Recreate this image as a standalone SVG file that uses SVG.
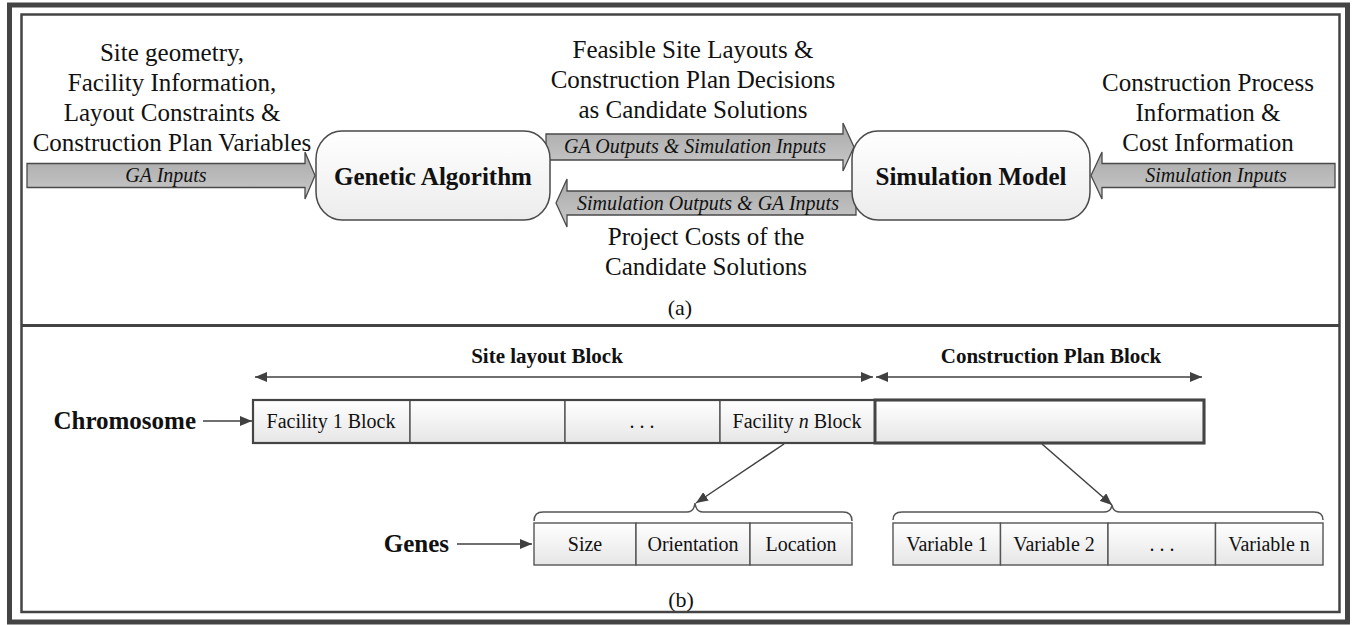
<svg xmlns="http://www.w3.org/2000/svg" width="1354" height="625" viewBox="0 0 1354 625">
<defs>
<linearGradient id="gArrow" x1="0" y1="0" x2="0" y2="1"><stop offset="0" stop-color="#a9a9a9"/><stop offset="1" stop-color="#c9c9c9"/></linearGradient>
<linearGradient id="gBox" x1="0" y1="0" x2="0" y2="1"><stop offset="0" stop-color="#ffffff"/><stop offset="1" stop-color="#ececec"/></linearGradient>
<linearGradient id="gCell" x1="0" y1="0" x2="0" y2="1"><stop offset="0" stop-color="#ffffff"/><stop offset="1" stop-color="#e6e6e6"/></linearGradient>
<marker id="ah" viewBox="0 0 12 10" refX="12" refY="5" markerWidth="12" markerHeight="10" markerUnits="userSpaceOnUse" orient="auto-start-reverse"><path d="M0,0 L12,5 L0,10 Z" fill="#404040"/></marker>
<style>
.frame{fill:none;stroke:#444;}
.big{fill:url(#gArrow);stroke:#4a4a4a;stroke-width:1.3;}
.box{fill:url(#gBox);stroke:#4a4a4a;stroke-width:1.5;}
.cell{fill:url(#gCell);stroke:#555;stroke-width:1.4;}
.line{fill:none;stroke:#404040;stroke-width:1.5;}
.brace{fill:none;stroke:#555;stroke-width:1.5;}
text{font-family:"Liberation Serif","Times New Roman",serif;fill:#111;}
.lab{font-size:25px;text-anchor:middle;}
.it{font-size:20px;font-style:italic;text-anchor:middle;}
.title{font-size:25px;font-weight:bold;text-anchor:middle;}
.hd{font-size:21px;font-weight:bold;text-anchor:middle;}
.ct{font-size:20px;text-anchor:middle;}
.cap{font-size:22px;text-anchor:middle;}
</style>
</defs>
<rect x="0" y="0" width="1354" height="625" fill="#ffffff"/>
<g id="frame">
<rect class="frame" x="9.5" y="5" width="1338" height="617" stroke-width="5"/>
<rect class="frame" x="21.5" y="14.5" width="1318" height="597.5" stroke-width="2.5"/>
<line class="frame" x1="21.5" y1="325.5" x2="1339.5" y2="325.5" stroke-width="3"/>
</g>
<g id="connectors">
<path class="big" d="M27,163.5 L305,163.5 L305,152 L315,175.5 L305,199 L305,187.5 L27,187.5 Z"/>
<path class="big" d="M546,134 L843,134 L843,123 L854,147 L843,171 L843,160 L546,160 Z"/>
<path class="big" d="M856,191 L567,191 L567,179 L556,203 L567,227 L567,215 L856,215 Z"/>
<path class="big" d="M1335,163.5 L1102,163.5 L1102,152 L1091,175.5 L1102,199 L1102,187.5 L1335,187.5 Z"/>
<line class="line" x1="255" y1="377" x2="873" y2="377" marker-start="url(#ah)" marker-end="url(#ah)"/>
<line class="line" x1="876" y1="377" x2="1202" y2="377" marker-start="url(#ah)" marker-end="url(#ah)"/>
<line class="line" x1="203" y1="421" x2="252" y2="421" marker-end="url(#ah)"/>
<line class="line" x1="457" y1="544" x2="532" y2="544" marker-end="url(#ah)"/>
<line class="line" x1="784" y1="444" x2="696" y2="503" marker-end="url(#ah)"/>
<line class="line" x1="1042" y1="444" x2="1112" y2="505" marker-end="url(#ah)"/>
<path class="brace" d="M534,521 Q534,512 543,512 L687,512 Q694,512 695,503 Q696,512 703,512 L843,512 Q852,512 852,521"/>
<path class="brace" d="M893,520 Q893,512 902,512 L1104,512 Q1111,512 1112,505 Q1113,512 1120,512 L1314,512 Q1323,512 1323,520"/>
</g>
<g id="labels-a">
<text class="lab" x="172" y="61">Site geometry,</text>
<text class="lab" x="172" y="91">Facility Information,</text>
<text class="lab" x="172" y="121">Layout Constraints &amp;</text>
<text class="lab" x="172" y="151">Construction Plan Variables</text>
<text class="it" x="166" y="182">GA Inputs</text>
<text class="lab" x="693" y="58">Feasible Site Layouts &amp;</text>
<text class="lab" x="693" y="88">Construction Plan Decisions</text>
<text class="lab" x="693" y="118">as Candidate Solutions</text>
<text class="it" x="695" y="153">GA Outputs &amp; Simulation Inputs</text>
<text class="it" x="708" y="210">Simulation Outputs &amp; GA Inputs</text>
<text class="lab" x="1208" y="91">Construction Process</text>
<text class="lab" x="1208" y="121">Information &amp;</text>
<text class="lab" x="1208" y="151">Cost Information</text>
<text class="it" x="1216" y="182">Simulation Inputs</text>
<text class="lab" x="706" y="245">Project Costs of the</text>
<text class="lab" x="706" y="275">Candidate Solutions</text>
<text class="cap" x="680" y="315">(a)</text>
</g>
<g id="ga">
<rect class="box" x="316" y="131" width="234" height="89" rx="26" ry="28"/>
<text class="title" x="433" y="185">Genetic Algorithm</text>
</g>
<g id="sim">
<rect class="box" x="852" y="131" width="238" height="89" rx="26" ry="28"/>
<text class="title" x="971" y="185">Simulation Model</text>
</g>
<g id="labels-b">
<text class="hd" x="547" y="363">Site layout Block</text>
<text class="hd" x="1051" y="363">Construction Plan Block</text>
<text class="title" x="196" y="429" text-anchor="end" style="text-anchor:end">Chromosome</text>
<text class="title" x="449" y="552" style="text-anchor:end">Genes</text>
<text class="cap" x="681" y="607">(b)</text>
</g>
<g id="chromosome">
<rect class="cell" x="253" y="400" width="157" height="43"/>
<rect class="cell" x="410" y="400" width="155" height="43"/>
<rect class="cell" x="565" y="400" width="155" height="43"/>
<rect class="cell" x="720" y="400" width="155" height="43"/>
<rect class="cell" x="875" y="400" width="329" height="43" style="stroke:#444;stroke-width:3"/>
<rect x="253" y="400" width="951" height="43" fill="none" stroke="#444" stroke-width="2.2"/>
<text class="ct" x="331" y="428">Facility 1 Block</text>
<text class="ct" x="642" y="428">. . .</text>
<text class="ct" x="797" y="428">Facility <tspan font-style="italic">n</tspan> Block</text>
</g>
<g id="genes">
<rect class="cell" x="534" y="523" width="102" height="42"/>
<rect class="cell" x="636" y="523" width="114" height="42"/>
<rect class="cell" x="750" y="523" width="102" height="42"/>
<text class="ct" x="585" y="551">Size</text>
<text class="ct" x="693" y="551">Orientation</text>
<text class="ct" x="801" y="551">Location</text>
</g>
<g id="variables">
<rect class="cell" x="893" y="523" width="107.5" height="42"/>
<rect class="cell" x="1000.5" y="523" width="107.5" height="42"/>
<rect class="cell" x="1108" y="523" width="107.5" height="42"/>
<rect class="cell" x="1215.5" y="523" width="107.5" height="42"/>
<text class="ct" x="947" y="551">Variable 1</text>
<text class="ct" x="1054" y="551">Variable 2</text>
<text class="ct" x="1162" y="551">. . .</text>
<text class="ct" x="1269" y="551">Variable n</text>
</g>
</svg>
